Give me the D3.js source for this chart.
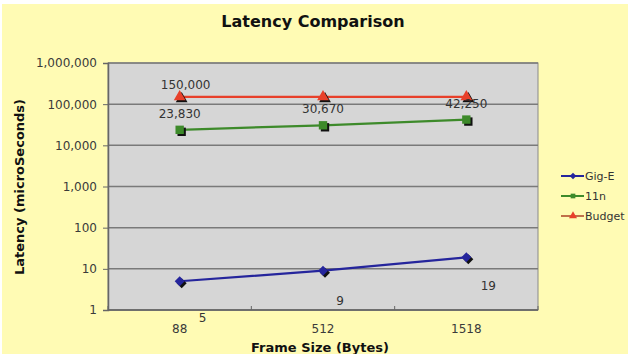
<!DOCTYPE html>
<html>
<head>
<meta charset="utf-8">
<script src="https://cdn.jsdelivr.net/npm/d3@7"></script>
<style>
  html, body { margin: 0; padding: 0; background: #ffffff; }
  svg { display: block; }
  text { font-family: "DejaVu Sans", Verdana, sans-serif; }
</style>
</head>
<body>
<svg id="chart" width="628" height="354"></svg>
<script>
// Frame sizes on the x axis
const frameSizes = ["88", "512", "1518"];
// Latency in microseconds for each link type
const gigE = [5, 9, 19];
const n11 = [23830, 30670, 42250];
const budget = [150000, 150000, 150000];
const seriesNames = ["Gig-E", "11n", "Budget"];
const yTicks = [1, 10, 100, 1000, 10000, 100000, 1000000];
// Data labels that the chart prints (only some points carry one)
const gigELabels = ["5", "9", "19"];
const n11Labels = ["23,830", "30,670", "42,250"];
const budgetLabels = ["150,000", "", ""];

const svg = d3.select("#chart");
const W = 628, H = 354;

// Yellow page
svg.append("rect").attr("x", 2).attr("y", 4).attr("width", W - 2).attr("height", H - 4)
  .attr("fill", "#fffbb4");

const plot = { left: 108, top: 63, right: 538, bottom: 310 };

const x = d3.scaleBand().domain(frameSizes).range([plot.left, plot.right]);
const y = d3.scaleLog().domain([1, 1000000]).range([plot.bottom, plot.top]);

// Plot area
svg.append("rect")
  .attr("x", plot.left).attr("y", plot.top)
  .attr("width", plot.right - plot.left).attr("height", plot.bottom - plot.top)
  .attr("fill", "#d6d6d6").attr("stroke", "#8a8a8a").attr("stroke-width", 1);

// Horizontal gridlines
svg.append("g").selectAll("line").data(yTicks).join("line")
  .attr("x1", plot.left).attr("x2", plot.right)
  .attr("y1", d => y(d)).attr("y2", d => y(d))
  .attr("stroke", "#7a7a7a").attr("stroke-width", 1.5);

// Y axis
const yAxis = svg.append("g").attr("transform", `translate(${plot.left},0)`)
  .call(d3.axisLeft(y).tickValues(yTicks).tickFormat(d3.format(",")).tickSize(5).tickPadding(6));
yAxis.select(".domain").attr("stroke", "#666").attr("stroke-width", 1.5);
yAxis.selectAll(".tick line").attr("stroke", "#666");
yAxis.selectAll(".tick text").attr("fill", "#3a3a3a").attr("font-size", 12)
  .style("font-family", "'DejaVu Sans', Verdana, sans-serif");

// X axis: ticks fall between categories as band edges
const xAxisG = svg.append("g").attr("transform", `translate(0,${plot.bottom})`);
xAxisG.append("line").attr("x1", plot.left).attr("x2", plot.right)
  .attr("stroke", "#666").attr("stroke-width", 1.5);
const edges = frameSizes.map(d => x(d)).concat([x(frameSizes[frameSizes.length - 1]) + x.bandwidth()]);
xAxisG.selectAll(".edge").data(edges).join("line").attr("class", "edge")
  .attr("x1", d => d).attr("x2", d => d).attr("y1", -4).attr("y2", 0)
  .attr("stroke", "#666");
xAxisG.selectAll(".cat").data(frameSizes).join("text").attr("class", "cat")
  .attr("x", d => x(d) + x.bandwidth() / 2).attr("y", 23)
  .attr("text-anchor", "middle").attr("fill", "#3a3a3a").attr("font-size", 12)
  .text(d => d);

const cx = d => x(d) + x.bandwidth() / 2;

const series = [
  { name: seriesNames[0], values: gigE, color: "#25259c", shape: d3.symbolSquare, size: 50, rot: 45 },
  { name: seriesNames[1], values: n11, color: "#3d8a2a", shape: d3.symbolSquare, size: 70, rot: 0 },
  { name: seriesNames[2], values: budget, color: "#e8402a", shape: d3.symbolTriangle, size: 60, rot: 0 }
];

const line = d3.line().x((d, i) => cx(frameSizes[i])).y(d => y(d));

series.forEach(s => {
  svg.append("path").datum(s.values).attr("d", line)
    .attr("fill", "none").attr("stroke", s.color).attr("stroke-width", 2.2);
  const g = svg.append("g");
  // marker shadow
  g.selectAll(".sh").data(s.values).join("path").attr("class", "sh")
    .attr("d", d3.symbol().type(s.shape).size(s.size))
    .attr("transform", (d, i) => `translate(${cx(frameSizes[i]) + 2},${y(d) + 2}) rotate(${s.rot})`)
    .attr("fill", "#111");
  g.selectAll(".mk").data(s.values).join("path").attr("class", "mk")
    .attr("d", d3.symbol().type(s.shape).size(s.size))
    .attr("transform", (d, i) => `translate(${cx(frameSizes[i])},${y(d)}) rotate(${s.rot})`)
    .attr("fill", s.color);
});

// Data labels
const labelStyle = sel => sel.attr("font-size", 12).attr("fill", "#333").attr("text-anchor", "middle");
svg.append("g").selectAll("text").data(budget).join("text")
  .attr("x", (d, i) => cx(frameSizes[i]) + 6).attr("y", d => y(d) - 8)
  .text((d, i) => budgetLabels[i]).call(labelStyle);
svg.append("g").selectAll("text").data(n11).join("text")
  .attr("x", (d, i) => cx(frameSizes[i])).attr("y", d => y(d) - 12)
  .text((d, i) => n11Labels[i]).call(labelStyle);
svg.append("g").selectAll("text").data(gigE).join("text")
  .attr("x", (d, i) => cx(frameSizes[i]) + [23, 17, 22][i])
  .attr("y", (d, i) => y(d) + [41, 34, 33][i])
  .text((d, i) => gigELabels[i]).call(labelStyle);

// Title and axis titles
svg.append("text").attr("x", 313).attr("y", 27).attr("text-anchor", "middle")
  .attr("font-size", 16).attr("font-weight", "bold").attr("fill", "#111")
  .text("Latency Comparison");
svg.append("text").attr("x", 320).attr("y", 352).attr("text-anchor", "middle")
  .attr("font-size", 13).attr("font-weight", "bold").attr("fill", "#111")
  .text("Frame Size (Bytes)");
svg.append("text").attr("transform", `translate(24,187) rotate(-90)`)
  .attr("text-anchor", "middle").attr("font-size", 13).attr("font-weight", "bold").attr("fill", "#111")
  .text("Latency (microSeconds)");

// Legend
const legend = svg.append("g").attr("transform", "translate(561,176)");
series.forEach((s, i) => {
  const row = legend.append("g").attr("transform", `translate(0,${i * 20})`);
  row.append("line").attr("x1", 0).attr("x2", 23).attr("y1", 0).attr("y2", 0)
    .attr("stroke", i === 2 ? "#c0704a" : s.color).attr("stroke-width", 2);
  row.append("path").attr("d", d3.symbol().type(s.shape).size(i === 2 ? 28 : 22))
    .attr("transform", `translate(12,0) rotate(${s.rot})`).attr("fill", s.color);
  row.append("text").attr("x", 24).attr("y", 4).attr("font-size", 11).attr("fill", "#333")
    .text(s.name);
});
</script>
</body>
</html>
